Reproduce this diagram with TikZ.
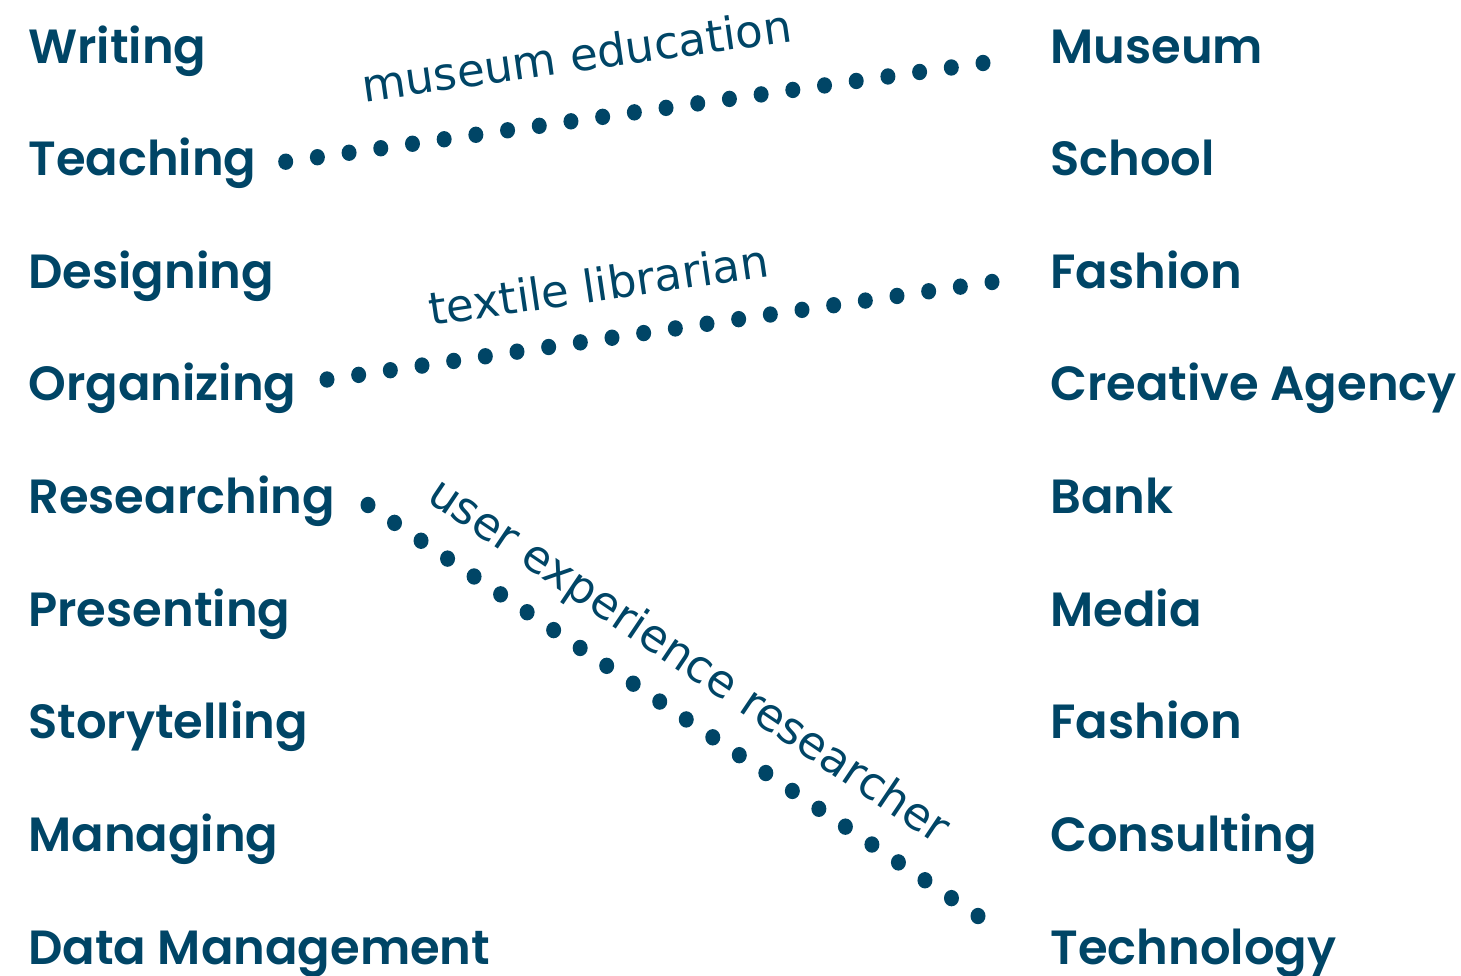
\documentclass[tikz,border=0pt]{standalone}
\usepackage{fontspec}
\setmainfont{Poppins SemiBold}
\newfontfamily\handfont{DejaVu Sans}
\definecolor{ink}{RGB}{0,69,102}
\tikzset{
    word/.style={anchor=base west, inner sep=0pt, text=ink,
        font=\fontsize{24pt}{24pt}\selectfont},
    jobnote/.style={sloped, anchor=base, inner sep=0pt, text=ink,
        font=\handfont\fontsize{22.5pt}{22.5pt}\selectfont},
    dot/.style={fill=ink}
}
\usetikzlibrary{calc}

\begin{document}
\begin{tikzpicture}[x=0.5pt, y=-0.5pt]
    \useasboundingbox (0,0) rectangle (1461,975);
    % skills
    \node[word] (writing) at (28,63) {Writing};
    \node[word] (teaching) at (28,175.6) {Teaching};
    \node[word] (designing) at (28,288.3) {Designing};
    \node[word] (organizing) at (28,400.9) {Organizing};
    \node[word] (researching) at (28,513.5) {Researching};
    \node[word] (presenting) at (28,626.1) {Presenting};
    \node[word] (storytelling) at (28,738.8) {Storytelling};
    \node[word] (managing) at (28,851.4) {Managing};
    \node[word] (datamgmt) at (28,964) {Data Management};
    % sectors
    \node[word] (museum) at (1050,63) {Museum};
    \node[word] (school) at (1050,175.6) {School};
    \node[word] (fashion) at (1050,288.3) {Fashion};
    \node[word] (agency) at (1050,400.9) {Creative Agency};
    \node[word] (bank) at (1050,513.5) {Bank};
    \node[word] (media) at (1050,626.1) {Media};
    \node[word] (fashiontwo) at (1050,738.8) {Fashion};
    \node[word] (consulting) at (1050,851.4) {Consulting};
    \node[word] (technology) at (1050,964) {Technology};
    % ends of the dotted links
    \coordinate (teachA) at (285.7,161.7);
    \coordinate (museumB) at (983,63);
    \coordinate (organA) at (327,379.5);
    \coordinate (fashionB) at (992,282);
    \coordinate (researchA) at (368,505);
    \coordinate (techB) at (978,916);
    \foreach \i in {0,...,22}
        \fill[dot] ($(teachA)!\i/22!(museumB)$) ellipse (7.5 and 8.2);
    \foreach \i in {0,...,21}
        \fill[dot] ($(organA)!\i/21!(fashionB)$) ellipse (7.5 and 8.2);
    \foreach \i in {0,...,23}
        \fill[dot] ($(researchA)!\i/23!(techB)$) ellipse (7.5 and 8.2);
    \path (teachA) -- (museumB) node[jobnote, pos=0.43, yshift=24pt] {museum education};
    \path (organA) -- (fashionB) node[jobnote, pos=0.42, yshift=19pt] {textile librarian};
    \path (researchA) -- (techB) node[jobnote, pos=0.48, yshift=18pt] {user experience researcher};
\end{tikzpicture}
\end{document}
